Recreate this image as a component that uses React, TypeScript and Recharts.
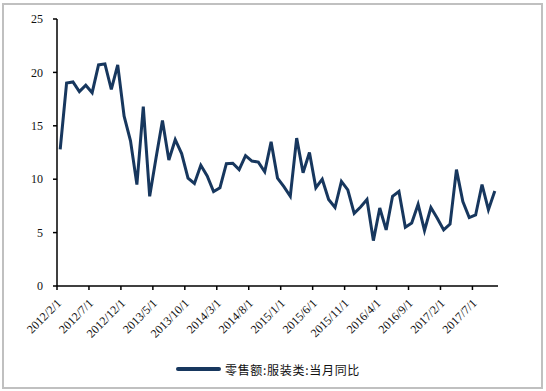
import { LineChart, Line, XAxis, YAxis, Legend } from "recharts";

const MONTHS = [
  "2012/2/1", "2012/3/1", "2012/4/1", "2012/5/1", "2012/6/1", "2012/7/1", "2012/8/1", "2012/9/1", "2012/10/1", "2012/11/1", "2012/12/1",
  "2013/1/1", "2013/2/1", "2013/3/1", "2013/4/1", "2013/5/1", "2013/6/1", "2013/7/1", "2013/8/1", "2013/9/1", "2013/10/1", "2013/11/1", "2013/12/1",
  "2014/1/1", "2014/2/1", "2014/3/1", "2014/4/1", "2014/5/1", "2014/6/1", "2014/7/1", "2014/8/1", "2014/9/1", "2014/10/1", "2014/11/1", "2014/12/1",
  "2015/1/1", "2015/2/1", "2015/3/1", "2015/4/1", "2015/5/1", "2015/6/1", "2015/7/1", "2015/8/1", "2015/9/1", "2015/10/1", "2015/11/1", "2015/12/1",
  "2016/1/1", "2016/2/1", "2016/3/1", "2016/4/1", "2016/5/1", "2016/6/1", "2016/7/1", "2016/8/1", "2016/9/1", "2016/10/1", "2016/11/1", "2016/12/1",
  "2017/1/1", "2017/2/1", "2017/3/1", "2017/4/1", "2017/5/1", "2017/6/1", "2017/7/1", "2017/8/1", "2017/9/1", "2017/10/1",
];

// 零售额:服装类:当月同比 (%)
const VALUES = [
  12.8, 19.0, 19.1, 18.2, 18.8, 18.1, 20.7, 20.8, 18.4, 20.7, 15.9,
  13.6, 9.5, 16.8, 8.4, 12.0, 15.5, 11.8, 13.7, 12.4, 10.1, 9.6, 11.3,
  10.3, 8.85, 9.2, 11.45, 11.5, 10.9, 12.2, 11.7, 11.6, 10.7, 13.5, 10.1,
  9.3, 8.4, 13.85, 10.6, 12.5, 9.2, 10.0, 8.1, 7.35, 9.8, 9.0, 6.8,
  7.4, 8.1, 4.25, 7.3, 5.25, 8.4, 8.85, 5.5, 5.9, 7.65, 5.2, 7.35,
  6.35, 5.25, 5.8, 10.9, 7.9, 6.4, 6.65, 9.5, 7.15, 8.9,
];

const X_TICKS = [0, 5, 10, 15, 20, 25, 30, 35, 40, 45, 50, 55, 60, 65];
const Y_TICKS = [0, 5, 10, 15, 20, 25];
const SERIES_NAME = "零售额:服装类:当月同比";

const LINE_COLOR = "#17375e";
const SERIF = "'Liberation Serif', 'Times New Roman', serif";

// category i sits between boundaries i and i+1, Excel style
const data = MONTHS.map((m, i) => ({ x: i + 0.5, month: m, value: VALUES[i] }));

function DateTick(props: any) {
  const { x, y, payload } = props;
  return (
    <g transform={`translate(${x + 5},${y + 12})`}>
      <text
        x={0}
        y={0}
        transform="rotate(-45)"
        textAnchor="end"
        fill="#111"
        fontSize={12}
        fontFamily={SERIF}
      >
        {MONTHS[payload.value]}
      </text>
    </g>
  );
}

function LegendBox() {
  return (
    <div style={{ display: "flex", alignItems: "center", justifyContent: "center", height: 24, paddingLeft: 38 }}>
      <span style={{ display: "inline-block", width: 45, height: 4, background: LINE_COLOR, borderRadius: 2 }} />
      <span
        style={{
          marginLeft: 4,
          fontSize: 12,
          color: "#111",
          fontFamily: "'Noto Sans CJK SC', serif",
          letterSpacing: 0.7,
        }}
      >
        {SERIES_NAME}
      </span>
    </div>
  );
}

export default function App() {
  return (
    <div style={{ position: "absolute", left: 0, top: 0, width: 546, height: 391, background: "#fff" }}>
      <div
        style={{
          position: "absolute",
          left: 2,
          top: 3,
          width: 541,
          height: 386,
          border: "2px solid #c0c0c0",
          boxSizing: "border-box",
        }}
      />
      <LineChart width={546} height={391} data={data} margin={{ top: 19, right: 48, left: 0, bottom: 0 }}>
        <XAxis
          type="number"
          dataKey="x"
          domain={[0, 69]}
          ticks={X_TICKS}
          interval={0}
          tick={<DateTick />}
          tickSize={4}
          height={81}
          axisLine={{ stroke: "#000", strokeWidth: 1.5 }}
          tickLine={{ stroke: "#000", strokeWidth: 1.5 }}
        />
        <YAxis
          type="number"
          domain={[0, 25]}
          ticks={Y_TICKS}
          width={57}
          tickSize={4}
          tickMargin={10}
          tick={{ fill: "#111", fontSize: 12, fontFamily: SERIF }}
          axisLine={{ stroke: "#000", strokeWidth: 1.5 }}
          tickLine={{ stroke: "#000", strokeWidth: 1.5 }}
        />
        <Legend verticalAlign="bottom" content={<LegendBox />} wrapperStyle={{ bottom: 10 }} />
        <Line
          type="linear"
          dataKey="value"
          name={SERIES_NAME}
          stroke={LINE_COLOR}
          strokeWidth={3}
          dot={false}
          isAnimationActive={false}
        />
      </LineChart>
    </div>
  );
}
